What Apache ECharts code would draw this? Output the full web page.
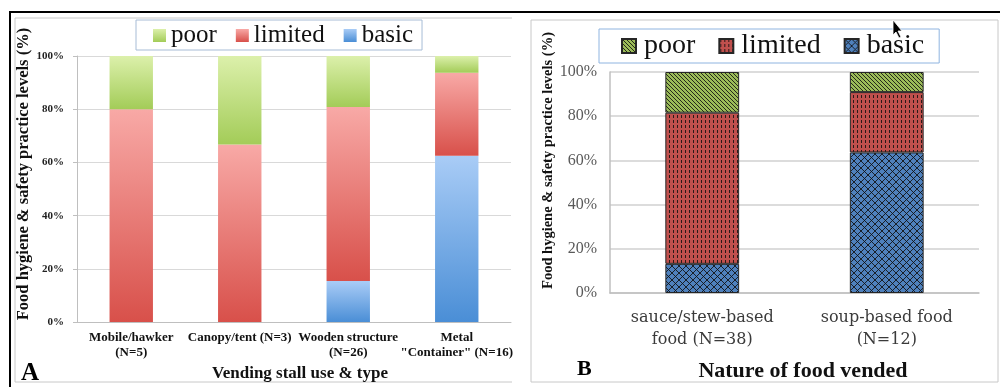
<!DOCTYPE html>
<html><head><meta charset="utf-8">
<script src="https://cdn.jsdelivr.net/npm/echarts@6/dist/echarts.min.js"></script>
<style>html,body{margin:0;padding:0;background:#fff}#c{width:1000px;height:387px}</style>
</head><body><div id="c"></div>
<script>
// ---- data ----
const categoriesA = ['Mobile/hawker\n(N=5)', 'Canopy/tent (N=3)', 'Wooden structure\n(N=26)', 'Metal\n"Container" (N=16)'];
const basicA   = [0, 0, 15.4, 62.5];
const limitedA = [80, 66.7, 65.4, 31.25];
const poorA    = [20, 33.3, 19.2, 6.25];

const categoriesB = ['sauce/stew-based\nfood (N=38)', 'soup-based food\n(N=12)'];
const basicB   = [13.2, 63.6];
const limitedB = [68.4, 27.3];
const poorB    = [18.4, 9.1];

const levelNames = ['poor', 'limited', 'basic'];
const yTickStep = 20;

// ---- styles ----
const SERIF = '"Liberation Serif", "Times New Roman", serif';
const SERIF2 = '"DejaVu Serif", serif';
function grad(top, bottom) {
  return new echarts.graphic.LinearGradient(0, 0, 0, 1, [{offset: 0, color: top}, {offset: 1, color: bottom}]);
}
const colA = {
  poor: grad('#dcf0ab', '#a3cc58'),
  limited: grad('#f8a9a6', '#d8504a'),
  basic: grad('#a9ccf6', '#4a8ed6')
};
function mkPattern(w, h, bg, draw) {
  const c = document.createElement('canvas');
  c.width = w; c.height = h;
  const ctx = c.getContext('2d');
  ctx.fillStyle = bg; ctx.fillRect(0, 0, w, h);
  ctx.fillStyle = 'rgba(15,15,15,0.85)';
  draw(ctx, w, h);
  return {image: c, repeat: 'repeat'};
}
const colB = {
  poor: mkPattern(4, 4, '#9bbb59', (g, w) => { for (let i = 0; i < w; i++) g.fillRect(i, i, 1, 1); }),
  limited: mkPattern(4, 5, '#c0504d', (g) => { g.fillRect(1, 0, 1, 3); }),
  basic: mkPattern(7, 7, '#4f81bd', (g, w) => { for (let i = 0; i < w; i++) { g.fillRect(i, i, 1, 1); g.fillRect(w - 1 - i, i, 1, 1); } })
};

const chart = echarts.init(document.getElementById('c'), null, {renderer: 'canvas'});

function seriesFor(gridIdx, dataMap, colors, suffix, extra) {
  return ['basic', 'limited', 'poor'].map(k => ({
    name: k + suffix,
    type: 'bar',
    stack: 'g' + gridIdx,
    xAxisIndex: gridIdx,
    yAxisIndex: gridIdx,
    barWidth: '40%',
    data: dataMap[k],
    itemStyle: Object.assign({color: colors[k]}, extra || {}),
    emphasis: {disabled: true},
    animation: false
  }));
}

const option = {
  backgroundColor: '#fff',
  animation: false,
  legend: [
    {
      data: levelNames,
      left: 136, top: 20,
      orient: 'horizontal',
      selectedMode: false,
      icon: 'rect',
      itemWidth: 13, itemHeight: 13,
      itemGap: 19,
      padding: [3, 9, 2, 17],
      borderColor: '#a7bcd6', borderWidth: 1,
      backgroundColor: '#fff',
      textStyle: {fontFamily: SERIF, fontSize: 25, color: '#111', lineHeight: 25}
    },
    {
      data: levelNames.map(n => n + ' '),
      formatter: n => n.trim(),
      left: 599, top: 29,
      orient: 'horizontal',
      selectedMode: false,
      icon: 'rect',
      itemWidth: 14, itemHeight: 14,
      itemGap: 23,
      padding: [3, 15, 3, 22],
      borderColor: '#8fb4e0', borderWidth: 1,
      backgroundColor: '#fff',
      textStyle: {fontFamily: SERIF, fontSize: 28, color: '#111', lineHeight: 28, padding: [0, 0, 0, 3]}
    }
  ],
  grid: [
    {left: 77, right: 489, top: 56, bottom: 62},
    {left: 610, right: 21, top: 72, bottom: 94}
  ],
  xAxis: [
    {
      type: 'category', gridIndex: 0, data: categoriesA,
      axisLine: {lineStyle: {color: '#bfbfbf'}},
      axisTick: {length: 4, lineStyle: {color: '#bfbfbf'}},
      axisLabel: {interval: 0, margin: 8, fontFamily: SERIF, fontWeight: 'bold', fontSize: 13, color: '#111', lineHeight: 15},
      name: 'Vending stall use & type', nameLocation: 'middle', nameGap: 41,
      nameTextStyle: {fontFamily: SERIF, fontWeight: 'bold', fontSize: 17, color: '#111', padding: [0, 0, 0, 12]}
    },
    {
      type: 'category', gridIndex: 1, data: categoriesB,
      axisLine: {lineStyle: {color: '#bfbfbf', width: 1.5}},
      axisTick: {length: 5, lineStyle: {color: '#bfbfbf'}},
      axisLabel: {interval: 0, margin: 14, fontFamily: SERIF2, fontSize: 16, color: '#3a3a3a', lineHeight: 22},
      name: 'Nature of food vended', nameLocation: 'middle', nameGap: 67,
      nameTextStyle: {fontFamily: SERIF, fontWeight: 'bold', fontSize: 22, color: '#111', padding: [0, 0, 0, 17]}
    }
  ],
  yAxis: [
    {
      type: 'value', gridIndex: 0, min: 0, max: 100, interval: yTickStep,
      axisLine: {show: true, lineStyle: {color: '#bfbfbf'}},
      axisTick: {show: true, length: 4, lineStyle: {color: '#bfbfbf'}},
      splitLine: {lineStyle: {color: '#d9d9d9'}},
      axisLabel: {formatter: '{value}%', margin: 13, fontFamily: SERIF, fontWeight: 'bold', fontSize: 11, color: '#222'},
      name: 'Food hygiene & safety practice levels (%)', nameLocation: 'middle', nameGap: 44,
      nameTextStyle: {fontFamily: SERIF, fontWeight: 'bold', fontSize: 16.5, color: '#111', padding: [0, 0, 0, 30]}
    },
    {
      type: 'value', gridIndex: 1, min: 0, max: 100, interval: yTickStep,
      axisLine: {show: true, lineStyle: {color: '#bfbfbf', width: 1.5}},
      axisTick: {show: false},
      splitLine: {lineStyle: {color: '#d0d0d0', width: 1.5}},
      axisLabel: {formatter: '{value}%', margin: 13, fontFamily: SERIF, fontSize: 16, color: '#595959'},
      name: 'Food hygiene & safety practice levels (%)', nameLocation: 'middle', nameGap: 52,
      nameTextStyle: {fontFamily: SERIF, fontWeight: 'bold', fontSize: 14.5, color: '#111', padding: [0, 0, 0, 44]}
    }
  ],
  series: [].concat(
    seriesFor(0, {basic: basicA, limited: limitedA, poor: poorA}, colA, ''),
    seriesFor(1, {basic: basicB, limited: limitedB, poor: poorB}, colB, ' ', {borderColor: '#262626', borderWidth: 1})
  ),
  graphic: [
    {type: 'polyline', silent: true, z: -1, shape: {points: [[512, 18], [15, 18], [15, 382], [512, 382]]}, style: {stroke: '#c8c8c8', fill: null, lineWidth: 1}},
    {type: 'rect', silent: true, z: -1, shape: {x: 531, y: 20, width: 467, height: 362}, style: {stroke: '#c8c8c8', fill: null, lineWidth: 1}},
    {type: 'line', silent: true, shape: {x1: 9, y1: 12, x2: 1000, y2: 12}, style: {stroke: '#000', lineWidth: 2}},
    {type: 'line', silent: true, shape: {x1: 10, y1: 12, x2: 10, y2: 387}, style: {stroke: '#000', lineWidth: 2}},
    {type: 'text', silent: true, left: 21, top: 361, style: {text: 'A', font: 'bold 25px ' + SERIF, fill: '#000'}},
    {type: 'text', silent: true, left: 577, top: 358, style: {text: 'B', font: 'bold 22px ' + SERIF, fill: '#000'}},
    {type: 'polygon', silent: true, z: 100, shape: {points: [[893, 20], [893, 35], [896, 32], [899, 38], [901, 37], [898, 31], [902, 31]]}, style: {fill: '#000', stroke: '#fff', lineWidth: 0.8}}
  ]
};
chart.setOption(option);
</script>
</body></html>
